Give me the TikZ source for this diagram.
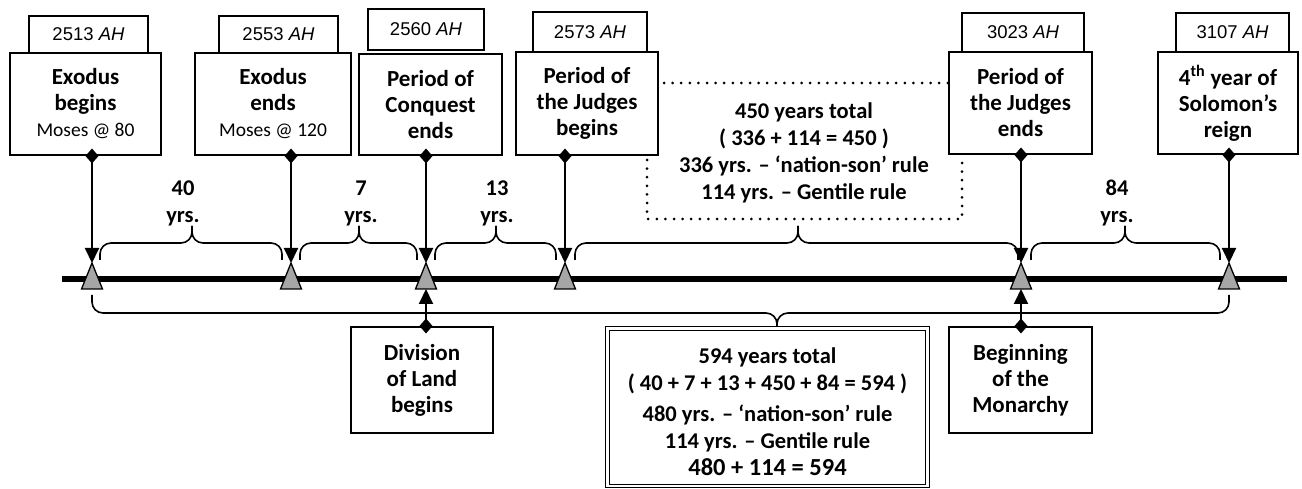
\documentclass[tikz,border=0pt]{standalone}
\usepackage{fontspec}
\setmainfont{Carlito}
\newfontfamily\datefont{Liberation Sans}
\usepackage{xcolor}
\usepackage{tikz}
\usetikzlibrary{positioning,arrows.meta,calc}

\begin{document}
\begin{tikzpicture}[x=1pt, y=-1pt,
  evt/.style={draw, line width=2pt, align=center, inner sep=0pt,
    font=\bfseries\fontsize{23}{26}\selectfont},
  datebox/.style={draw, line width=1.3pt, inner sep=0pt,
    font=\datefont\fontsize{18.5}{21}\selectfont},
  lbl/.style={align=center, inner sep=0pt, font=\bfseries\fontsize{22.5}{27}\selectfont},
  tri/.style={draw=black, fill=black!35, line width=1.3pt},
  brc/.style={line width=1.6pt, rounded corners=11pt},
  link/.style={line width=2pt,
    {Diamond[length=15pt,width=13pt]}-{Triangle[length=15pt,width=14pt]},
    shorten <=-7.5pt},
  dots/.style={line width=3pt, line cap=round, dash pattern=on 0pt off 8.6pt}]
  \useasboundingbox (0,0) rectangle (1302,489);
  % ---- time line and its markers
  \draw[line width=6pt] (62,279) -- (1287,279);
  \foreach \i/\x in {1/92, 2/291, 3/426, 4/565, 5/1021, 6/1229} {
    \coordinate (ap\i) at (\x,263);
    \coordinate (bs\i) at (\x,289);
    \filldraw[tri] (\x,263) -- (\x+10.5,289) -- (\x-10.5,289) -- cycle;
  }
  % ---- events above the line
  \node[evt, minimum width=151pt, minimum height=102pt] (exb) at (85.5,104)
    {Exodus\\begins\\{\mdseries\fontsize{19.5}{26}\selectfont Moses @ 80}};
  \node[evt, minimum width=156pt, minimum height=102pt] (exe) at (273,104)
    {Exodus\\ends\\{\mdseries\fontsize{19.5}{26}\selectfont Moses @ 120}};
  \node[evt, minimum width=143pt, minimum height=101pt] (cqe) at (430.5,104.5)
    {Period of\\Conquest\\ends};
  \node[evt, minimum width=142pt, minimum height=103pt] (jdb) at (587,103.5)
    {Period of\\the Judges\\begins};
  \node[evt, minimum width=143pt, minimum height=102pt] (jde) at (1020.5,103)
    {Period of\\the Judges\\ends};
  \node[evt, minimum width=140pt, minimum height=102pt] (sol) at (1228,103)
    {4\textsuperscript{th} year of\\Solomon’s\\reign};
  % dates
  \node[datebox, minimum width=119pt, minimum height=37pt] (d1) at (88.5,34.5) {2513 \textit{AH}};
  \node[datebox, minimum width=119pt, minimum height=37pt] (d2) at (278.5,34.5) {2553 \textit{AH}};
  \node[datebox, minimum width=116pt, minimum height=41pt] (d3) at (426,29.5) {2560 \textit{AH}};
  \node[datebox, minimum width=114pt, minimum height=40pt] (d4) at (590,32) {2573 \textit{AH}};
  \node[datebox, minimum width=122pt, minimum height=39pt] (d5) at (1023,32.5) {3023 \textit{AH}};
  \node[datebox, minimum width=113pt, minimum height=39pt] (d6) at (1232.5,32.5) {3107 \textit{AH}};
  \foreach \n/\i in {exb/1, exe/2, cqe/3, jdb/4, jde/5, sol/6}
    \draw[link] (\n.south -| ap\i) -- (ap\i);
  % ---- events below the line
  \node[evt, minimum width=142pt, minimum height=106pt] (dvl) at (422,380)
    {Division\\of Land\\begins};
  \node[evt, minimum width=143pt, minimum height=106pt] (mon) at (1020.5,380)
    {Beginning\\of the\\Monarchy};
  \draw[link] (dvl.north -| bs3) -- (bs3);
  \draw[link] (mon.north -| bs5) -- (bs5);
  % ---- spans between markers
  \foreach \a/\b/\m in {100/282/192, 300/417/359, 435/556/496, 575/1018/798, 1031/1220/1125} {
    \draw[brc] (\a,260) -- (\a,243) -- (\m,243) -- (\m,226);
    \draw[brc] (\b,260) -- (\b,243) -- (\m,243) -- (\m,226);
  }
  \node[lbl] (y40) at (183,203.5) {40\\yrs.};
  \node[lbl] (y7) at (361,203.5) {7\\yrs.};
  \node[lbl] (y13) at (497,203.5) {13\\yrs.};
  \node[lbl] (y84) at (1117,203.5) {84\\yrs.};
  % 450 years of the judges
  \coordinate (dtop) at (800,83);
  \draw[dots] ([xshift=5pt]jdb.east |- dtop) -- (jde.west |- dtop);
  \draw[dots] ([xshift=-12pt,yshift=-4pt]jdb.south east) -- ++(0,59) -| ([xshift=14pt]jde.south west);
  \node[lbl] (tot450) at (804,152.5)
    {450 years total\\( 336 + 114 = 450 )\\336 yrs. – ‘nation-son’ rule\\114 yrs. – Gentile rule};
  % ---- whole span
  \draw[brc] (92,295) -- (92,313) -- (777,313) -- (777,330);
  \draw[brc] (1229,295) -- (1229,313) -- (777,313) -- (777,330);
  \draw[line width=1.2pt, double, double distance=2.5pt] (607.5,328.5) rectangle (927.5,486);
  \node[lbl] (tot594) at (767.5,412)
    {594 years total\\( 40 + 7 + 13 + 450 + 84 = 594 )\\[4pt]480 yrs. – ‘nation-son’ rule\\114 yrs. – Gentile rule\\{\fontsize{24.5}{28}\selectfont 480 + 114 = 594}};
\end{tikzpicture}
\end{document}
